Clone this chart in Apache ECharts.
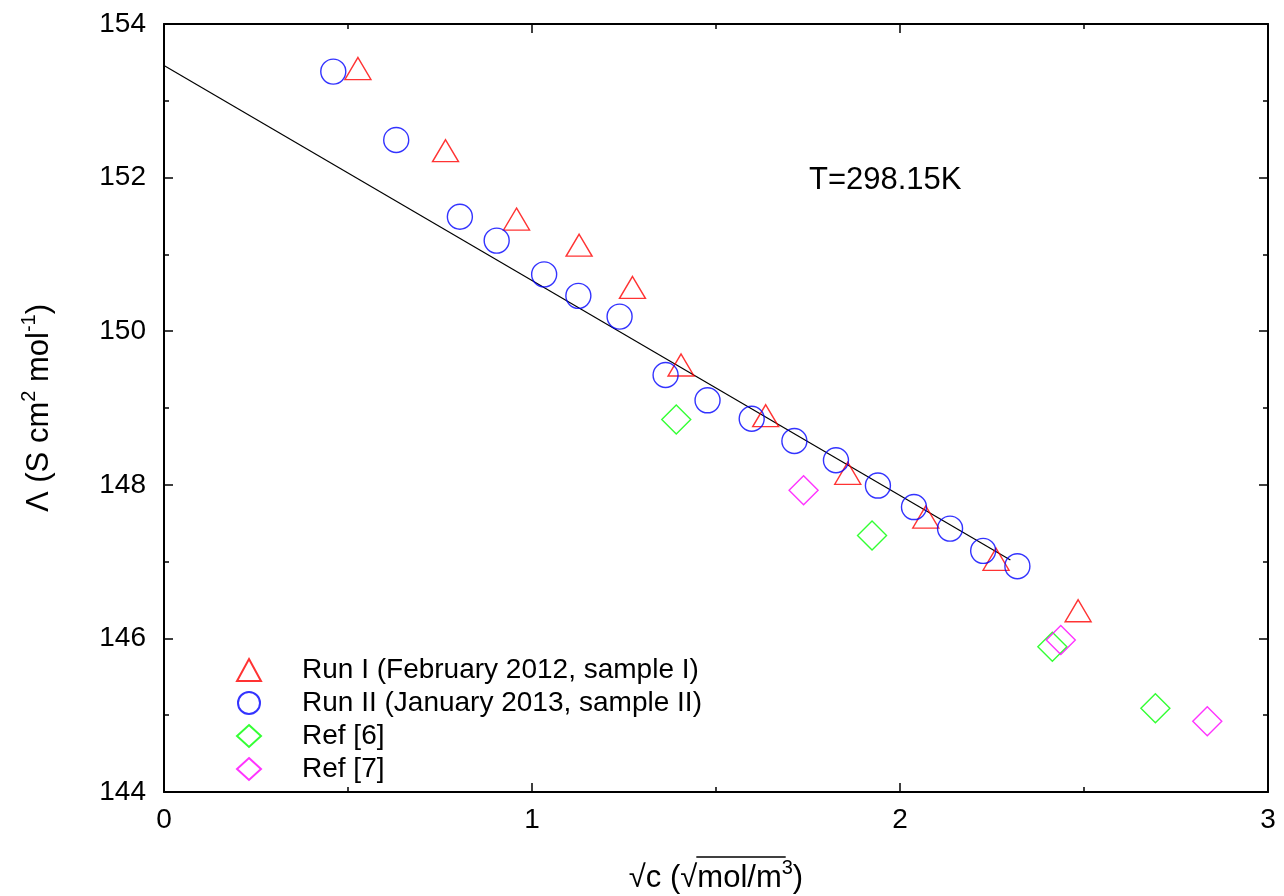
<!DOCTYPE html>
<html><head><meta charset="utf-8">
<script src="https://cdn.jsdelivr.net/npm/echarts@6/dist/echarts.min.js"></script>
<style>html,body{margin:0;padding:0;background:#fff;overflow:hidden}#c{width:1284px;height:896px}</style>
</head><body><div id="c"></div>
<script>
// Data
const run1X = [0.527, 0.765, 0.958, 1.128, 1.273, 1.405, 1.635, 1.858, 2.070, 2.261, 2.484];
const run1Y = [153.42, 152.35, 151.46, 151.12, 150.57, 149.56, 148.90, 148.15, 147.58, 147.03, 146.36];
const run2X = [0.460, 0.631, 0.804, 0.904, 1.033, 1.126, 1.238, 1.363, 1.477, 1.597, 1.713, 1.826, 1.940, 2.038, 2.136, 2.226, 2.319];
const run2Y = [153.38, 152.49, 151.49, 151.18, 150.74, 150.46, 150.19, 149.43, 149.10, 148.86, 148.57, 148.32, 147.99, 147.71, 147.43, 147.14, 146.94];
const ref6X = [1.392, 1.924, 2.414, 2.694];
const ref6Y = [148.85, 147.34, 145.89, 145.09];
const ref7X = [1.738, 2.437, 2.835];
const ref7Y = [147.93, 145.98, 144.92];
const fitX = [0, 2.30];
const fitY = [153.46, 147.02];
const seriesNames = ['Run I (February 2012, sample I)', 'Run II (January 2013, sample II)', 'Ref [6]', 'Ref [7]'];
const annotation = 'T=298.15K';
const xTitleParts = ['√c (√', 'mol/m', '3', ')'];
const yTitleParts = ['Λ (S cm', '2', ' mol', '-1', ')'];

const zip = (xs, ys) => xs.map((x, i) => [x, ys[i]]);
const FONT = '"Liberation Sans", Arial, Helvetica, sans-serif';
const TICK_FS = 28, TITLE_FS = 31, SUP_FS = 20;

const chart = echarts.init(document.getElementById('c'), null, {renderer: 'canvas'});

// measure text for the overline above "mol/m3"
const mctx = document.createElement('canvas').getContext('2d');
function tw(s, fs) { mctx.font = fs + 'px ' + FONT; return mctx.measureText(s).width; }

const axisCommon = {
  axisLine: {show: true, onZero: false, lineStyle: {color: '#000', width: 2}},
  axisTick: {show: true, inside: true, length: 9, lineStyle: {color: '#000', width: 1.5}},
  minorTick: {show: true, splitNumber: 2, length: 5, lineStyle: {color: '#000', width: 1.5}},
  splitLine: {show: false},
  minorSplitLine: {show: false}
};

function scatter(name, xs, ys, symbol, size, color) {
  return {
    name, type: 'scatter', data: zip(xs, ys), symbol, symbolSize: size,
    itemStyle: {color: 'rgba(0,0,0,0)', borderColor: color, borderWidth: 1.4},
    emphasis: {disabled: true}, z: 3
  };
}

const gridLeft = 164, gridRight = 16, W = 1284;
const xCenter = gridLeft + (W - gridLeft - gridRight) / 2;
const wTot = tw(xTitleParts[0], TITLE_FS) + tw(xTitleParts[1], TITLE_FS) + tw(xTitleParts[2], SUP_FS) + tw(xTitleParts[3], TITLE_FS);
const olX1 = xCenter - wTot / 2 + tw(xTitleParts[0], TITLE_FS) - 1;
const olX2 = olX1 + tw(xTitleParts[1], TITLE_FS) + 5;
const olY = 857;

chart.setOption({
  animation: false,
  textStyle: {fontFamily: FONT},
  grid: {left: gridLeft, right: gridRight, top: 24, bottom: 104, containLabel: false, outerBoundsMode: 'none'},
  title: {
    text: annotation, left: 804, top: 160,
    textStyle: {fontFamily: FONT, fontSize: TITLE_FS, fontWeight: 'normal', color: '#000'}
  },
  legend: {
    orient: 'vertical', left: 231, top: 651,
    itemWidth: 24, itemHeight: 22, itemGap: 5,
    data: seriesNames,
    textStyle: {fontFamily: FONT, fontSize: TICK_FS, color: '#000', padding: [0, 0, 0, 36]}
  },
  graphic: [{
    type: 'line', silent: true,
    shape: {x1: olX1, y1: olY, x2: olX2, y2: olY},
    style: {stroke: '#000', lineWidth: 1.5}
  }],
  xAxis: [
    Object.assign({
      type: 'value', min: 0, max: 3, interval: 1, position: 'bottom',
      axisLabel: {color: '#000', fontSize: TICK_FS, fontFamily: FONT, margin: 14},
      name: '{n|' + xTitleParts[0] + '}{n|' + xTitleParts[1] + '}{s|' + xTitleParts[2] + '}{n|' + xTitleParts[3] + '}',
      nameLocation: 'middle', nameGap: 66,
      nameTextStyle: {
        color: '#000', fontFamily: FONT,
        rich: {
          n: {fontSize: TITLE_FS, fontFamily: FONT, color: '#000', lineHeight: 36, verticalAlign: 'bottom'},
          s: {fontSize: SUP_FS, fontFamily: FONT, color: '#000', lineHeight: 36, verticalAlign: 'top'}
        }
      }
    }, axisCommon),
    Object.assign({
      type: 'value', min: 0, max: 3, interval: 1, position: 'top',
      axisLabel: {show: false}
    }, axisCommon)
  ],
  yAxis: [
    Object.assign({
      type: 'value', min: 144, max: 154, interval: 2, position: 'left',
      axisLabel: {color: '#000', fontSize: TICK_FS, fontFamily: FONT, margin: 18},
      name: '{n|' + yTitleParts[0] + '}{s|' + yTitleParts[1] + '}{n|' + yTitleParts[2] + '}{s|' + yTitleParts[3] + '}{n|' + yTitleParts[4] + '}',
      nameLocation: 'middle', nameGap: 109, nameRotate: 90,
      nameTextStyle: {
        color: '#000', fontFamily: FONT,
        rich: {
          n: {fontSize: TITLE_FS, fontFamily: FONT, color: '#000', lineHeight: 36, verticalAlign: 'bottom'},
          s: {fontSize: SUP_FS, fontFamily: FONT, color: '#000', lineHeight: 36, verticalAlign: 'top'}
        }
      }
    }, axisCommon),
    Object.assign({
      type: 'value', min: 144, max: 154, interval: 2, position: 'right',
      axisLabel: {show: false}
    }, axisCommon)
  ],
  series: [
    {
      name: 'fit', type: 'line', data: zip(fitX, fitY), showSymbol: false, symbol: 'none',
      lineStyle: {color: '#000', width: 1.2}, silent: true, z: 2
    },
    scatter(seriesNames[0], run1X, run1Y, 'triangle', [26, 22], '#ff0000'),
    scatter(seriesNames[1], run2X, run2Y, 'circle', 25, '#0000ff'),
    scatter(seriesNames[2], ref6X, ref6Y, 'diamond', [29, 29], '#00ff00'),
    scatter(seriesNames[3], ref7X, ref7Y, 'diamond', [29, 29], '#ff00ff')
  ]
});
</script></body></html>
